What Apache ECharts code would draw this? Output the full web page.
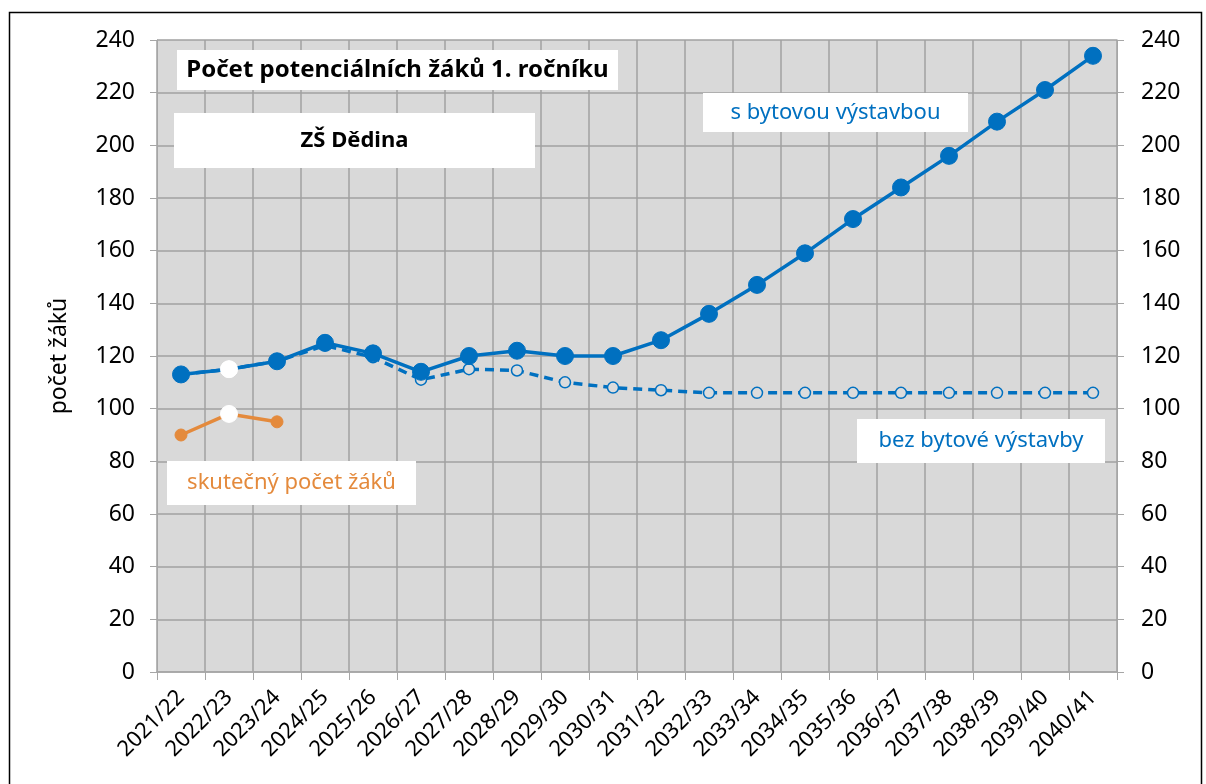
<!DOCTYPE html>
<html>
<head>
<meta charset="utf-8">
<script src="https://cdn.jsdelivr.net/npm/echarts@6/dist/echarts.min.js"></script>
<style>
  html, body { margin: 0; padding: 0; background: #fff; }
  #chart { width: 1206px; height: 784px; }
</style>
</head>
<body>
<div id="chart"></div>
<script>
// skolni roky
var roky = ['2021/22','2022/23','2023/24','2024/25','2025/26','2026/27','2027/28','2028/29','2029/30','2030/31',
            '2031/32','2032/33','2033/34','2034/35','2035/36','2036/37','2037/38','2038/39','2039/40','2040/41'];
// s bytovou vystavbou
var sVystavbou = [113, 115, 118, 125, 121, 114, 120, 122, 120, 120, 126, 136, 147, 159, 172, 184, 196, 209, 221, 234];
// bez bytove vystavby
var bezVystavby = [113, 115, 118, 124, 119.5, 111, 115, 114.5, 110, 108, 107, 106, 106, 106, 106, 106, 106, 106, 106, 106];
// skutecny pocet zaku
var skutecny = [90, 98, 95];
var yTicks = { min: 0, max: 240, interval: 20 };

var MODRA = '#0070C0';
var ORANZ = '#E48A3C';
var FONT = '"Noto Sans", sans-serif';

// bod na indexu 1 (2022/23) je bily
function bileBody(arr, size) {
    return arr.map(function (v, i) {
        if (i === 1) {
            return { value: v, symbolSize: size, itemStyle: { color: '#fff', borderColor: '#fff' } };
        }
        return v;
    });
}

var chart = echarts.init(document.getElementById('chart'));

function popisek(x, y, w, h, text, color, weight, size) {
    return {
        type: 'group', left: x, top: y,
        children: [
            { type: 'rect', z: 100, shape: { x: 0, y: 0, width: w, height: h }, style: { fill: '#fff' } },
            { type: 'text', z: 101, x: w / 2, y: h / 2,
              style: { text: text, fill: color, font: weight + ' ' + size + 'px ' + FONT, align: 'center', verticalAlign: 'middle' } }
        ]
    };
}

var yAxisBase = {
    type: 'value',
    min: yTicks.min, max: yTicks.max, interval: yTicks.interval,
    axisLine: { show: true, lineStyle: { color: '#A6A6A6', width: 1 } },
    axisTick: { show: true, length: 7, lineStyle: { color: '#A6A6A6' } },
    axisLabel: { color: '#000', fontSize: 23, fontFamily: FONT, margin: 22 }
};

var option = {
    animation: false,
    backgroundColor: '#fff',
    grid: { left: 157, right: 89, top: 40, bottom: 112, show: true, backgroundColor: '#D9D9D9', borderWidth: 0 },
    xAxis: {
        type: 'category',
        data: roky,
        boundaryGap: true,
        axisLine: { show: true, lineStyle: { color: '#A6A6A6', width: 1.5 } },
        axisTick: { show: true, interval: 0, length: 8, lineStyle: { color: '#A6A6A6' } },
        splitLine: { show: true, interval: 0, lineStyle: { color: '#A0A0A0', width: 1.5 } },
        axisLabel: { interval: 0, rotate: 45, color: '#000', fontSize: 22, fontFamily: FONT, margin: 22 }
    },
    yAxis: [
        Object.assign({}, yAxisBase, {
            position: 'left',
            name: 'počet žáků', nameLocation: 'middle', nameGap: 86, nameRotate: 90,
            nameTextStyle: { color: '#000', fontSize: 23, fontFamily: FONT },
            splitLine: { show: true, lineStyle: { color: '#A0A0A0', width: 1.5 } }
        }),
        Object.assign({}, yAxisBase, {
            position: 'right',
            splitLine: { show: false },
            axisLabel: { color: '#000', fontSize: 23, fontFamily: FONT, margin: 24 }
        })
    ],
    series: [
        {
            name: 'bez bytové výstavby', type: 'line', data: bileBody(bezVystavby, 16),
            symbol: 'circle', symbolSize: 11, showAllSymbol: true,
            lineStyle: { color: MODRA, width: 3.5, type: [9, 6] },
            itemStyle: { color: '#DCDCDC', borderColor: MODRA, borderWidth: 1.5 },
            z: 2
        },
        {
            name: 's bytovou výstavbou', type: 'line', data: bileBody(sVystavbou, 17),
            symbol: 'circle', symbolSize: 17, showAllSymbol: true,
            lineStyle: { color: MODRA, width: 3.5 },
            itemStyle: { color: MODRA, borderColor: MODRA },
            z: 3
        },
        {
            name: 'skutečný počet žáků', type: 'line', data: bileBody(skutecny, 17),
            symbol: 'circle', symbolSize: 12, showAllSymbol: true,
            lineStyle: { color: ORANZ, width: 3.5 },
            itemStyle: { color: ORANZ, borderColor: ORANZ },
            z: 3
        }
    ],
    graphic: [
        { type: 'rect', left: 7, top: 10, z: 200, silent: true,
          shape: { x: 0, y: 0, width: 1192, height: 790 },
          style: { fill: 'none', stroke: '#000', lineWidth: 1.5 } },
        popisek(177, 50, 441, 40, 'Počet potenciálních žáků 1. ročníku', '#000', 'bold', 24),
        popisek(174, 113, 361, 55, 'ZŠ Dědina', '#000', 'bold', 22),
        popisek(703, 93, 265, 39, 's bytovou výstavbou', MODRA, 'normal', 22),
        popisek(857, 419, 248, 44, 'bez bytové výstavby', MODRA, 'normal', 22),
        popisek(167, 461, 249, 44, 'skutečný počet žáků', ORANZ, 'normal', 22)
    ]
};
chart.setOption(option);
</script>
</body>
</html>
